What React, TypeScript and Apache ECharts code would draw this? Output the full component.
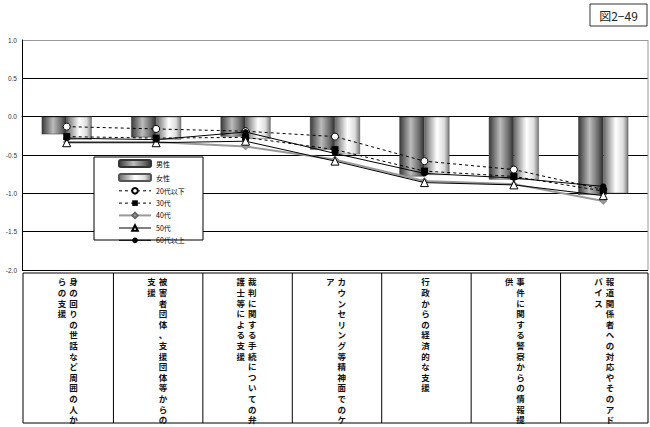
import React, { useEffect, useRef } from "react";
import * as echarts from "echarts";

const categories = [
  "身の回りの世話など周囲の人からの支援",
  "被害者団体、支援団体等からの支援",
  "裁判に関する手続についての弁護士等による支援",
  "カウンセリング等精神面でのケア",
  "行政からの経済的な支援",
  "事件に関する警察からの情報提供",
  "報道関係者への対応やそのアドバイス",
];
const male = [-0.23, -0.27, -0.26, -0.43, -0.78, -0.82, -1.02];
const female = [-0.3, -0.3, -0.29, -0.49, -0.76, -0.82, -1.0];
const age20 = [-0.13, -0.16, -0.19, -0.26, -0.58, -0.69, -0.95];
const age30 = [-0.26, -0.28, -0.27, -0.43, -0.71, -0.78, -0.97];
const age40 = [-0.33, -0.33, -0.39, -0.56, -0.84, -0.88, -1.1];
const age50 = [-0.34, -0.34, -0.32, -0.58, -0.86, -0.89, -1.03];
const age60 = [-0.28, -0.3, -0.2, -0.48, -0.74, -0.8, -0.91];
const seriesNames = ["男性", "女性", "20代以下", "30代", "40代", "50代", "60代以上"];

const JP = '"Noto Sans CJK JP", sans-serif';
const CHARS_PER_COL = 14;

export default function App() {
  const ref = useRef<HTMLDivElement>(null);
  useEffect(() => {
    const chart = echarts.init(ref.current!, null, { renderer: "svg" });
    const maleGrad = new echarts.graphic.LinearGradient(0, 0, 1, 0, [
      { offset: 0, color: "#3a3a3a" },
      { offset: 0.45, color: "#bcbcbc" },
      { offset: 0.8, color: "#6a6a6a" },
      { offset: 1, color: "#2e2e2e" },
    ]);
    const femaleGrad = new echarts.graphic.LinearGradient(0, 0, 1, 0, [
      { offset: 0, color: "#6a6a6a" },
      { offset: 0.5, color: "#ffffff" },
      { offset: 0.8, color: "#dddddd" },
      { offset: 1, color: "#7a7a7a" },
    ]);
    const dash = [3, 3];
    const legendData = seriesNames.map((name) => {
      if (name === "男性" || name === "女性") return { name };
      return { name, lineStyle: { width: name === "40代" ? 2 : 1 } };
    });
    const option: any = {
      animation: false,
      backgroundColor: "#fff",
      grid: { left: 22, right: 2, top: 40, bottom: 157 },
      legend: {
        orient: "vertical",
        left: 118,
        top: 159,
        padding: 0,
        itemWidth: 32,
        itemHeight: 7,
        itemGap: 5,
        z: 10,
        data: legendData,
        textStyle: { fontSize: 7, fontFamily: JP, color: "#000" },
      },
      xAxis: {
        type: "category",
        data: categories,
        axisLine: { onZero: true, lineStyle: { color: "#000", width: 1 } },
        axisTick: { inside: true, length: 3, lineStyle: { color: "#000" } },
        axisLabel: { show: false },
      },
      yAxis: {
        type: "value",
        min: -2,
        max: 1,
        interval: 0.5,
        axisLine: { show: true, lineStyle: { color: "#000" } },
        axisTick: { show: false },
        axisLabel: {
          fontSize: 6.5,
          color: "#333",
          margin: 5,
          formatter: (v: number) => v.toFixed(1),
        },
        splitLine: {
          lineStyle: {
            color: ["#000", "#000", "#000", "#000", "#000", "#000", "#999"],
            width: 1,
          },
        },
      },
      series: [
        {
          name: "男性",
          type: "bar",
          data: male,
          barWidth: 25,
          barGap: "0%",
          itemStyle: { color: maleGrad, borderColor: "#333", borderWidth: 0.5 },
        },
        {
          name: "女性",
          type: "bar",
          data: female,
          barWidth: 25,
          barGap: "0%",
          itemStyle: { color: femaleGrad, borderColor: "#555", borderWidth: 0.5 },
        },
        {
          name: "20代以下",
          type: "line",
          data: age20,
          symbol: "circle",
          symbolSize: 7,
          z: 6,
          lineStyle: { color: "#000", width: 1, type: dash },
          itemStyle: { color: "#fff", borderColor: "#000", borderWidth: 1 },
        },
        {
          name: "30代",
          type: "line",
          data: age30,
          symbol: "rect",
          symbolSize: 7,
          z: 6,
          lineStyle: { color: "#000", width: 1, type: dash },
          itemStyle: { color: "#000" },
        },
        {
          name: "40代",
          type: "line",
          data: age40,
          symbol: "diamond",
          symbolSize: 7,
          z: 5,
          lineStyle: { color: "#999", width: 2 },
          itemStyle: { color: "#999", borderColor: "#666", borderWidth: 0.5 },
        },
        {
          name: "50代",
          type: "line",
          data: age50,
          symbol: "triangle",
          symbolSize: 8,
          z: 6,
          lineStyle: { color: "#000", width: 1 },
          itemStyle: { color: "#fff", borderColor: "#000", borderWidth: 1 },
        },
        {
          name: "60代以上",
          type: "line",
          data: age60,
          symbol: "circle",
          symbolSize: 6,
          z: 7,
          lineStyle: { color: "#000", width: 1 },
          itemStyle: { color: "#000" },
        },
      ],
    };
    chart.setOption(option);

    const centers = categories.map((_, i) => chart.convertToPixel({ xAxisIndex: 0 }, i) as number);
    const half = (centers[1] - centers[0]) / 2;
    const top = 273;
    const bottom = 423;
    const graphics: any[] = [
      {
        type: "rect",
        z: 5,
        shape: { x: 94, y: 157, width: 109, height: 83 },
        style: { fill: "#fff", stroke: "#000", lineWidth: 1 },
      },
      {
        type: "line",
        z: 5,
        shape: { x1: 648, y1: 40, x2: 648, y2: 270 },
        style: { stroke: "#999", lineWidth: 1 },
      },
      {
        type: "rect",
        shape: { x: centers[0] - half + 1, y: top, width: centers[6] + half - (centers[0] - half) - 1, height: bottom - top },
        style: { fill: "none", stroke: "#000", lineWidth: 1 },
      },
      {
        type: "rect",
        shape: { x: 590, y: 4, width: 57, height: 22 },
        style: { fill: "#fff", stroke: "#333", lineWidth: 1 },
      },
      {
        type: "text",
        x: 618.5,
        y: 15,
        style: {
          text: "図2−49",
          fontSize: 12,
          fontFamily: JP,
          fill: "#222",
          align: "center",
          verticalAlign: "middle",
        },
      },
    ];
    for (let i = 1; i < categories.length; i++) {
      const x = centers[i] - half + 2;
      graphics.push({
        type: "line",
        shape: { x1: x, y1: top, x2: x, y2: bottom },
        style: { stroke: "#000", lineWidth: 1 },
      });
    }
    const colGap = 11.5;
    categories.forEach((label, i) => {
      const chars = Array.from(label);
      const cols: string[][] = [];
      for (let k = 0; k < chars.length; k += CHARS_PER_COL) cols.push(chars.slice(k, k + CHARS_PER_COL));
      const n = cols.length;
      const cx = centers[i] + 1;
      cols.forEach((col, c) => {
        const x = cx + ((n - 1) / 2 - c) * colGap;
        graphics.push({
          type: "text",
          x,
          y: top + 3,
          style: {
            text: col.join("\n"),
            fontSize: 8.5,
            lineHeight: 10.6,
            fontWeight: "bold",
            fontFamily: JP,
            fill: "#111",
            align: "center",
            verticalAlign: "top",
          },
        });
      });
    });
    chart.setOption({ graphic: graphics });
    return () => chart.dispose();
  }, []);
  return <div ref={ref} style={{ width: 650, height: 427, position: "absolute", left: 0, top: 0 }} />;
}
